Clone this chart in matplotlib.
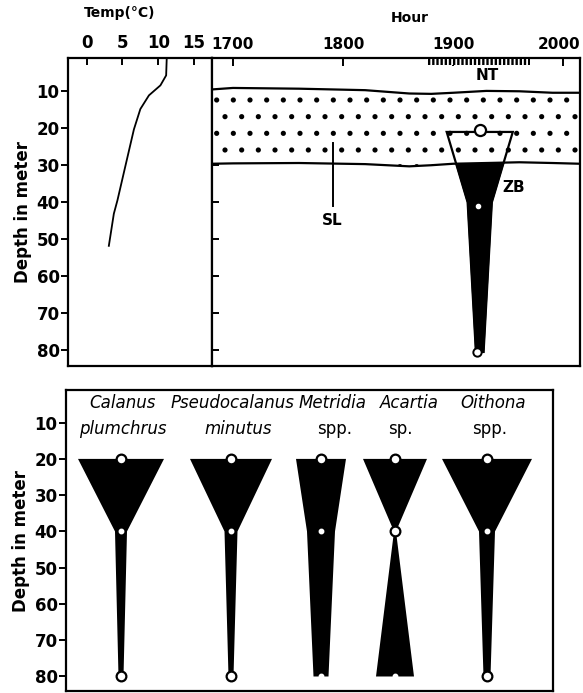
import numpy as np
import matplotlib
matplotlib.use("Agg")
import matplotlib.pyplot as plt
import matplotlib.transforms as mtransforms

# temperature profile (depth m, temp C)
temp_depth = [0, 5.7, 8.4, 11.1, 14.8, 20.3, 30.3, 39.5, 43.1, 51.8]
temp_value = [11.2, 11.1, 10.3, 8.7, 7.5, 6.6, 5.4, 4.3, 3.8, 3.1]

# scattering layer boundaries (hour, depth)
sl_hour = [1681, 1700, 1760, 1820, 1860, 1880, 1900, 1930, 1960, 1990, 2015]
sl_top = [9.5, 9.1, 9.3, 9.7, 10.6, 10.7, 10.4, 9.9, 10.0, 10.4, 10.4]
sl_bottom = [29.6, 29.5, 29.4, 29.7, 30.3, 30.0, 29.6, 29.4, 29.2, 29.4, 29.6]

# net tow period
nt_start, nt_end = 1876, 1970

# zooplankton biomass (ZB) kite
zb_hour = 1924
zb_depth = [21, 40, 80.5]
zb_halfwidth = [30, 11, 3.5]

# species kites at 20, 40, 80 m
species_genus = ["Calanus", "Pseudocalanus", "Metridia", "Acartia", "Oithona"]
species_name = ["plumchrus", "minutus", "spp.", "sp.", "spp."]
kite_depth = [20, 40, 80]
calanus_w = [0.43, 0.06, 0.025]
pseudo_w = [0.41, 0.065, 0.025]
metridia_w = [0.25, 0.14, 0.075]
acartia_w = [0.32, 0.01, 0.19]
oithona_w = [0.45, 0.08, 0.035]
widths = [calanus_w, pseudo_w, metridia_w, acartia_w, oithona_w]
# which sampling depths are drawn as big open circles (else small white dots)
open_marks = [[1, 0, 1], [1, 0, 1], [1, 0, 0], [1, 1, 0], [1, 0, 1]]

depth_ticks = [10, 20, 30, 40, 50, 60, 70, 80]

# layout
kite_x = [1.21, 2.31, 3.21, 3.95, 4.87]
genus_x = [1.22, 2.32, 3.33, 4.09, 4.93]
name_x = [1.23, 2.38, 3.35, 4.00, 4.90]

plt.rcParams['font.family'] = ['DejaVu Sans']
plt.rcParams['hatch.linewidth'] = 1.3
LW = 1.6

W, H = 583, 693
fig = plt.figure(figsize=(W / 100, H / 100), dpi=100)
ax_t = fig.add_axes([68 / W, 1 - 366 / H, 144 / W, 308 / H])
ax_h = fig.add_axes([212 / W, 1 - 366 / H, 368 / W, 308 / H])
ax_b = fig.add_axes([66 / W, 1 - 691 / H, 487 / W, 301 / H])

for ax in (ax_t, ax_h, ax_b):
    for s in ax.spines.values():
        s.set_linewidth(LW)

tick_font = dict(fontsize=12, fontweight='bold')

# ---- temperature panel
ax_t.plot(temp_value, temp_depth, color='black', lw=1.3)
ax_t.set_xlim(-2.6, 17.5)
ax_t.set_ylim(84.3, 1.0)
ax_t.xaxis.tick_top()
ax_t.set_xticks([0, 5, 10, 15])
ax_t.set_xticklabels(['0', '5', '10', '15'], **tick_font)
ax_t.tick_params(axis='x', direction='in', length=5, width=1.4, pad=4)
ax_t.set_yticks(depth_ticks)
ax_t.set_yticklabels([str(d) for d in depth_ticks], **tick_font)
ax_t.tick_params(axis='y', direction='out', length=5, width=1.4, pad=1)
ax_t.set_ylabel('Depth in meter', fontsize=12, fontweight='bold', labelpad=3)
fig.text(120 / W, 1 - 13 / H, 'Temp(°C)', ha='center', va='center',
         fontsize=10, fontweight='bold')

# ---- hour panel
ax_h.set_xlim(1681, 2015)
ax_h.set_ylim(84.3, 1.0)
ax_h.xaxis.tick_top()
ax_h.set_xticks([1700, 1800, 1900, 2000])
ax_h.set_xticklabels(['1700', '1800', '1900', '2000'], fontsize=11, fontweight='bold')
ax_h.tick_params(axis='x', direction='in', length=6, width=1.4, pad=4)
last = ax_h.get_xticklabels()[-1]
last.set_transform(last.get_transform() +
                   mtransforms.ScaledTranslation(-4 / 100, 0, fig.dpi_scale_trans))
ax_h.set_yticks(depth_ticks)
ax_h.set_yticklabels([])
ax_h.tick_params(axis='y', direction='in', length=5, width=1.4)
fig.text(410 / W, 1 - 18 / H, 'Hour', ha='center', va='center',
         fontsize=10, fontweight='bold')

zb_x = [zb_hour - w for w in zb_halfwidth] + [zb_hour + w for w in zb_halfwidth[::-1]]
zb_y = zb_depth + zb_depth[::-1]
ax_h.fill(zb_x, zb_y, color='black', zorder=1)
ax_h.fill_between(sl_hour, sl_top, sl_bottom, facecolor='white', edgecolor='black',
                  hatch='.', linewidth=0, zorder=2)
ax_h.plot(sl_hour, sl_top, color='black', lw=LW, zorder=3)
ax_h.plot(sl_hour, sl_bottom, color='black', lw=LW, zorder=3)
ax_h.fill(zb_x, zb_y, facecolor='none', edgecolor='black', lw=LW, zorder=3)
ax_h.plot([zb_hour], [zb_depth[0] - 0.5], 'o', ms=8, mfc='white', mec='black', mew=1.6, zorder=5)
ax_h.plot([zb_hour - 1.5], [zb_depth[1] + 1], 'o', ms=3, mfc='white', mec='white', zorder=5)
ax_h.plot([zb_hour - 2.5], [zb_depth[2]], 'o', ms=6, mfc='white', mec='black', mew=1.4, zorder=5)
ax_h.text(zb_hour + 21, 36, 'ZB', fontsize=11, fontweight='bold', ha='left', va='center')

ax_h.fill_between([nt_start, nt_end], 1.4, 3.0, facecolor='black', edgecolor='white',
                  hatch='||||', linewidth=0, zorder=4)
ax_h.text((nt_start + nt_end) / 2 + 8, 5.8, 'NT', fontsize=11, fontweight='bold',
          ha='center', va='center')

ax_h.plot([1791, 1791], [24, 41], color='black', lw=1.4, zorder=4)
ax_h.text(1790, 45, 'SL', fontsize=11, fontweight='bold', ha='center', va='center')

# ---- species panel
ax_b.set_xlim(0.66, 5.53)
ax_b.set_ylim(84, 1)
ax_b.set_xticks([])
ax_b.set_yticks(depth_ticks)
ax_b.set_yticklabels([str(d) for d in depth_ticks], **tick_font)
ax_b.tick_params(axis='y', direction='out', length=5, width=1.4, pad=1)
ax_b.set_ylabel('Depth in meter', fontsize=12, fontweight='bold', labelpad=3)

for i, w in enumerate(widths):
    c = kite_x[i]
    xs = [c - v for v in w] + [c + v for v in w[::-1]]
    ys = kite_depth + kite_depth[::-1]
    ax_b.fill(xs, ys, color='black', lw=0, zorder=1)
    for d, big in zip(kite_depth, open_marks[i]):
        if big:
            ax_b.plot([c], [d], 'o', ms=7, mfc='white', mec='black', mew=1.6, zorder=3)
        else:
            ax_b.plot([c], [d], 'o', ms=3.2, mfc='white', mec='white', zorder=3)
    ax_b.text(genus_x[i], 4.7, species_genus[i], style='italic', fontsize=12,
              ha='center', va='center')
    ax_b.text(name_x[i], 11.8, species_name[i],
              style='normal' if species_name[i].startswith('sp') else 'italic',
              fontsize=12, ha='center', va='center')

fig.savefig('out.png', dpi=100)
